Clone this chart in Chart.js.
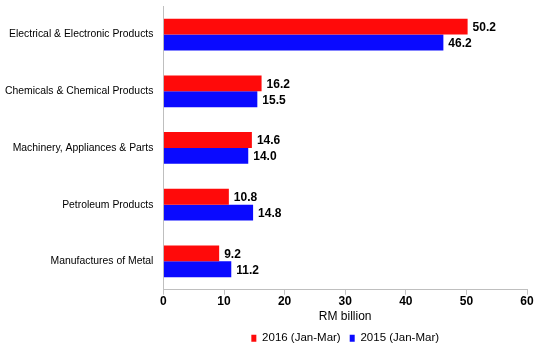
<!DOCTYPE html>
<html>
<head>
<meta charset="utf-8">
<script src="https://cdn.jsdelivr.net/npm/chart.js@4"></script>
<style>
  html, body { margin: 0; padding: 0; background: #fff; }
  #wrap { width: 550px; height: 350px; }
</style>
</head>
<body>
<div id="wrap"><canvas id="chart" width="550" height="350"></canvas></div>
<script>
// Categories and values (RM billion)
const categories = [
    "Electrical & Electronic Products",
    "Chemicals & Chemical Products",
    "Machinery, Appliances & Parts",
    "Petroleum Products",
    "Manufactures of Metal"
];
const values2016 = [50.2, 16.2, 14.6, 10.8, 9.2];
const values2015 = [46.2, 15.5, 14.0, 14.8, 11.2];
const seriesLabels = ["2016 (Jan-Mar)", "2015 (Jan-Mar)"];

const FONT = "'Liberation Sans', Arial, sans-serif";

// draws the value at the end of each bar
const valueLabels = {
    id: "valueLabels",
    afterDatasetsDraw(chart) {
        const ctx = chart.ctx;
        ctx.save();
        ctx.font = "bold 12px " + FONT;
        ctx.fillStyle = "#000";
        ctx.textBaseline = "middle";
        ctx.textAlign = "left";
        chart.data.datasets.forEach((ds, i) => {
            chart.getDatasetMeta(i).data.forEach((bar, j) => {
                ctx.fillText(ds.data[j].toFixed(1), bar.x + 5, bar.y + 1);
            });
        });
        ctx.restore();
    }
};

new Chart(document.getElementById("chart"), {
    type: "bar",
    data: {
        labels: categories,
        datasets: [
            { label: seriesLabels[0], data: values2016, backgroundColor: "#ff0a0a",
              categoryPercentage: 0.56, barPercentage: 1.0 },
            { label: seriesLabels[1], data: values2015, backgroundColor: "#0a0aff",
              categoryPercentage: 0.56, barPercentage: 1.0 }
        ]
    },
    options: {
        indexAxis: "y",
        responsive: false,
        animation: false,
        layout: { padding: { left: 5, right: 23, top: 1, bottom: -4 } },
        scales: {
            x: {
                min: 0, max: 60,
                ticks: { stepSize: 10, color: "#000", font: { family: FONT, size: 12, weight: "bold" }, padding: 0 },
                grid: { drawOnChartArea: false, drawTicks: true, tickLength: 5, color: "#bfbfbf" },
                border: { color: "#bfbfbf", width: 1 },
                title: { display: true, text: "RM billion", color: "#000",
                         font: { family: FONT, size: 12 }, padding: { top: 0, bottom: 0 } }
            },
            y: {
                ticks: { color: "#000", font: { family: FONT, size: 10.4 }, padding: 0 },
                // invisible tick marks keep a 10px gap between labels and the axis
                grid: { display: false, drawTicks: true, tickLength: 10 },
                border: { display: true, color: "#bfbfbf", width: 1 }
            }
        },
        plugins: {
            legend: {
                position: "bottom",
                fullSize: false,
                labels: { color: "#000", font: { family: FONT, size: 11.5 }, boxWidth: 5, boxHeight: 7, padding: 9 }
            },
            tooltip: { enabled: false }
        }
    },
    plugins: [valueLabels]
});
</script>
</body>
</html>
